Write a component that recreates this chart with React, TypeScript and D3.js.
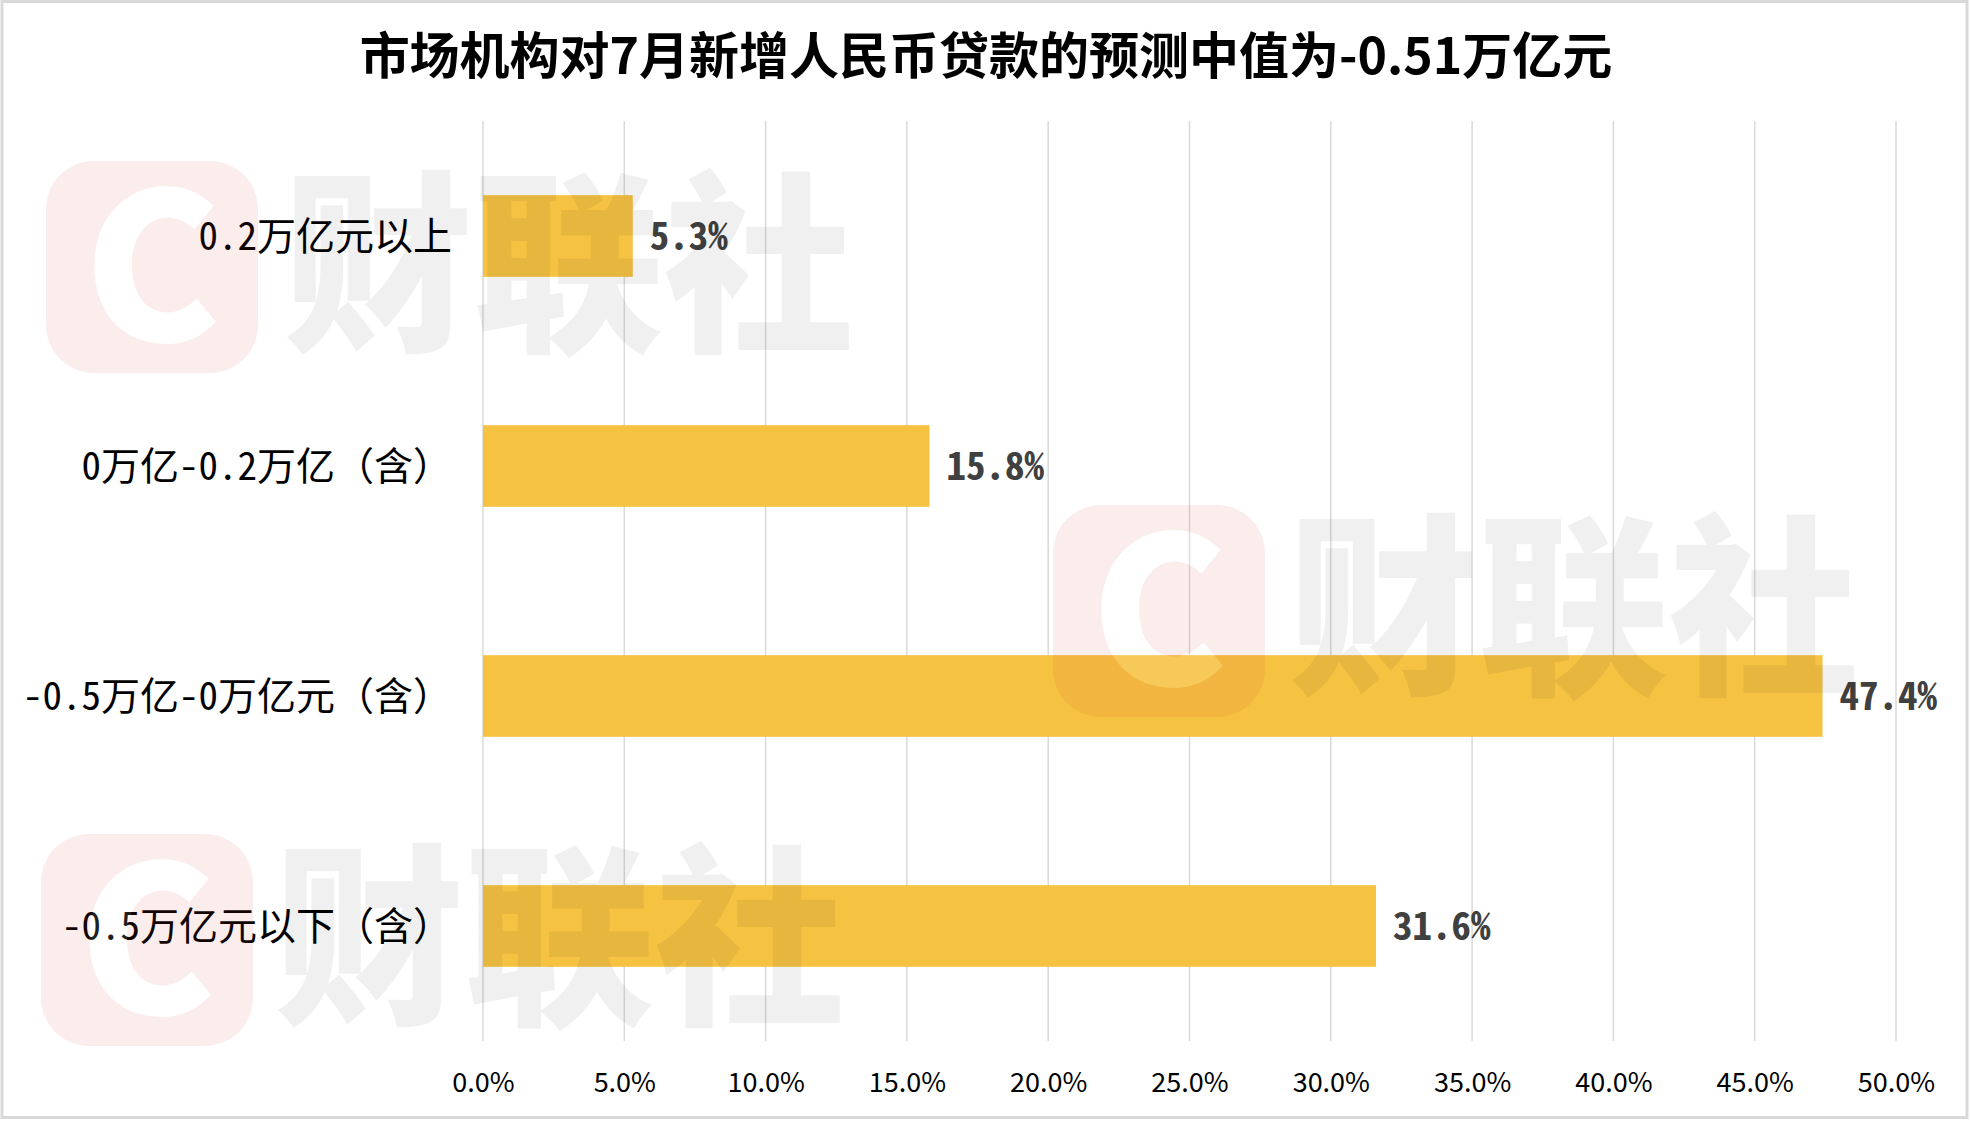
import { useEffect, useRef } from "react";
import * as d3 from "d3";

// chart data
const categories = [
  "0.2万亿元以上",
  "0万亿-0.2万亿（含）",
  "-0.5万亿-0万亿元（含）",
  "-0.5万亿元以下（含）",
];
const shares = [0.053, 0.158, 0.474, 0.316];
const xTicks = [0, 0.05, 0.1, 0.15, 0.2, 0.25, 0.3, 0.35, 0.4, 0.45, 0.5];
const title = "市场机构对7月新增人民币贷款的预测中值为-0.51万亿元";

const monoFont = "'Noto Sans Mono CJK SC', 'Noto Sans CJK SC', sans-serif";
const cjkFont = "'Noto Sans CJK SC', sans-serif";

export default function App() {
  const width = 1970;
  const height = 1124;
  const marginTop = 121;
  const marginBottom = 83;
  const marginLeft = 483;
  const marginRight = 74;

  const chart = useRef(null);
  const gx = useRef(null);

  const x = d3.scaleLinear()
    .domain([0, 0.5])
    .range([marginLeft, width - marginRight]);

  const y = d3.scaleBand()
    .domain(categories)
    .range([marginTop, height - marginBottom])
    .paddingInner(0.645)
    .paddingOuter(0.3225);

  const data = categories.map((c, i) => ({ cat: c, v: shares[i] }));

  useEffect(() => {
    const g = d3.select(gx.current);
    g.selectAll("*").remove();
    g
      // @ts-ignore
      .call(d3.axisBottom(x).tickValues(xTicks).tickFormat(d3.format(".1%")).tickSize(0).tickPadding(0))
      .call(g => g.select(".domain").remove())
      .call(g => g.selectAll(".tick text")
        .attr("y", 0)
        .attr("dy", "0.35em")
        .attr("fill", "#000")
        .style("font-family", cjkFont)
        .style("font-size", "27px"));
  }, [gx, x]);

  useEffect(() => {
    const svg = d3.select(chart.current);
    svg.select(".bars").remove();
    const g = svg.insert("g", ".watermarks").attr("class", "bars");

    g.selectAll("rect")
      .data(data)
      .join("rect")
      .attr("x", x(0))
      .attr("y", d => y(d.cat))
      .attr("width", d => x(d.v) - x(0))
      .attr("height", y.bandwidth())
      .attr("fill", "#F5C242");

    g.selectAll("text.val")
      .data(data)
      .join("text")
      .attr("class", "val")
      .attr("x", d => x(d.v) + 17)
      .attr("y", d => y(d.cat) + y.bandwidth() / 2)
      .attr("dy", "0.35em")
      .attr("fill", "#404040")
      .style("font-family", monoFont)
      .style("font-size", "39px")
      .style("font-weight", 700)
      .text(d => d3.format(".1%")(d.v));

    g.selectAll("text.cat")
      .data(data)
      .join("text")
      .attr("class", "cat")
      .attr("x", marginLeft - 31)
      .attr("y", d => y(d.cat) + y.bandwidth() / 2)
      .attr("dy", "0.35em")
      .attr("text-anchor", "end")
      .attr("fill", "#000")
      .style("font-family", monoFont)
      .style("font-size", "39px")
      .text(d => d.cat);
  }, [chart, y]);

  // watermark spots (decoration only)
  const marks = [
    { sx: 46, sy: 161, tx: 283, ty: 267 },
    { sx: 1053, sy: 505, tx: 1288, ty: 610 },
    { sx: 41, sy: 834, tx: 274, ty: 940 },
  ];

  return (
    <svg ref={chart} width={width} height={height}
      style={{ position: "absolute", left: 0, top: 0, background: "#fff" }}>
      <rect x={2} y={1.5} width={width - 5} height={height - 8} fill="#fff" stroke="#d9d9d9" strokeWidth={3} />
      <text x={986} y={56} dy="0.35em" textAnchor="middle" fontFamily={cjkFont}
        fontWeight={700} fontSize={50} fill="#000">{title}</text>
      <g>
        {xTicks.map(t => (
          <line key={t} x1={x(t)} x2={x(t)} y1={marginTop} y2={height - marginBottom}
            stroke="#d9d9d9" strokeWidth={1.5} />
        ))}
      </g>
      <g ref={gx} transform={`translate(0,1083)`} />
      <defs>
        <mask id="cmask">
          <rect x={0} y={0} width={width} height={height} fill="#fff" />
          {marks.map((m, i) => (
            <text key={i} x={m.sx + 106} y={m.sy + 106} dy="0.36em" textAnchor="middle"
              fontFamily={cjkFont} fontWeight={900} fontSize={205} fill="#000">C</text>
          ))}
        </mask>
      </defs>
      <g className="watermarks">
        <g mask="url(#cmask)">
          {marks.map((m, i) => (
            <rect key={i} x={m.sx} y={m.sy} width={212} height={212} rx={48}
              fill="rgb(225,50,50)" fillOpacity={0.085} />
          ))}
        </g>
        {marks.map((m, i) => (
          <g key={i}>
            <text x={m.sx + 106} y={m.sy + 106} dy="0.36em" textAnchor="middle"
              fontFamily={cjkFont} fontWeight={900} fontSize={205} fill="#fff" fillOpacity={0.12}>C</text>
            <text x={m.tx} y={m.ty} dy="0.36em" fontFamily={cjkFont} fontWeight={900}
              fontSize={195} textLength={571} lengthAdjust="spacingAndGlyphs"
              fill="#000" fillOpacity={0.06}>财联社</text>
          </g>
        ))}
      </g>
    </svg>
  );
}
